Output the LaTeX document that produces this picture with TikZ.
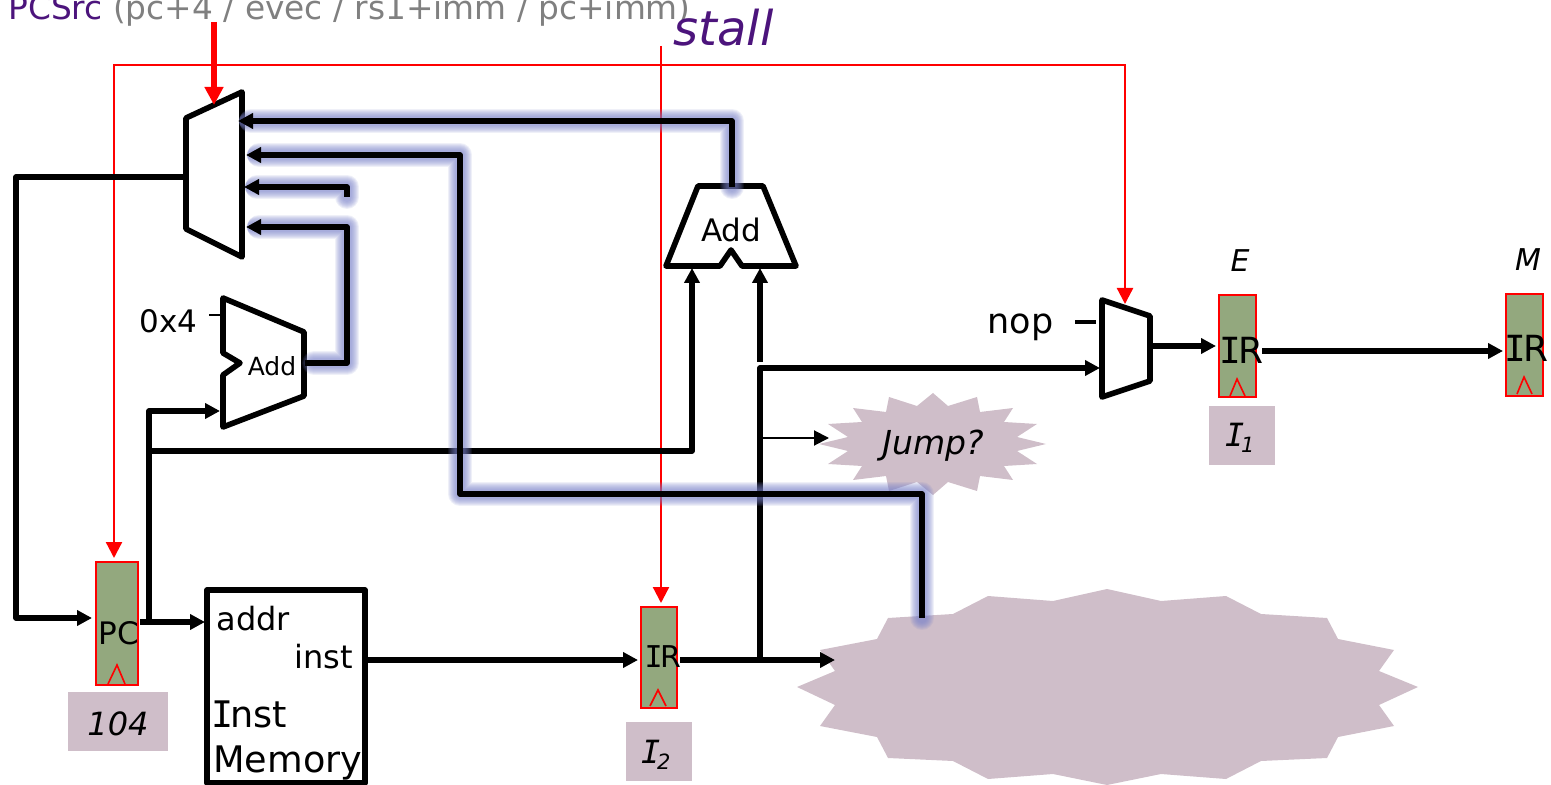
\documentclass[tikz,border=0pt]{standalone}
\usepackage{fontspec}
\setmainfont{DejaVu Sans}
\newfontfamily\vmono{DejaVu Sans Mono}
\usetikzlibrary{arrows.meta}
\definecolor{regfill}{RGB}{147,168,126}
\definecolor{mauve}{RGB}{207,190,201}
\definecolor{glowc}{RGB}{120,128,200}
\definecolor{purp}{RGB}{76,20,124}
\definecolor{grayt}{RGB}{128,128,128}
\newcommand{\fs}[1]{\fontsize{#1}{#1}\selectfont}
\newcommand{\vI}{{\vmono\kern-0.08em I\kern-0.08em}}
\newcommand{\glowpath}[1]{\foreach \w in {12,11,10,9,8,7,6,5}{\draw[glowc,line width=\w pt,opacity=.12,line join=round,line cap=round,shorten >=\w pt/2+0.5pt] #1;}}
\tikzset{
  x=0.5pt,y=-0.5pt,
  wire/.style={line width=2.7pt,line join=round,-{Triangle[length=7.5pt,width=7.5pt]}},
  plainwire/.style={line width=2.7pt,line join=round},
  redwire/.style={red,line width=1.15pt,-{Triangle[length=8pt,width=8pt]}},
  hw/.style={draw=black,line width=2.8pt,line join=round,fill=white},
  reg/.style={draw=red,fill=regfill,line width=1.1pt,inner sep=0pt,minimum width=#1,anchor=north west},
  clk/.style={draw=red,line width=.8pt},
  tag/.style={fill=mauve,inner sep=0pt,anchor=north west},
  txt/.style={inner sep=0pt,anchor=base west},
  ctr/.style={inner sep=0pt,anchor=center},
  burst/.style={fill=mauve,draw=none}
}
\begin{document}
\begin{tikzpicture}
\useasboundingbox (0,0) rectangle (1551,785);
% ---- named points
\coordinate (srcTop) at (214,22); \coordinate (srcTip) at (214,105);
\coordinate (stallTop) at (661,46); \coordinate (stallTip) at (661,603);
\coordinate (pcTip) at (114,558); \coordinate (redTL) at (114,65);
\coordinate (redTR) at (1125,65); \coordinate (mux2Tip) at (1125,304);
\coordinate (m1out) at (186,177); \coordinate (fbTL) at (16,177);
\coordinate (fbBL) at (16,618); \coordinate (pcIn) at (92,618);
\coordinate (m1a) at (238,121); \coordinate (addTop) at (732,187); \coordinate (addUp) at (732,121);
\coordinate (m1b) at (246,155); \coordinate (bC1) at (460,155); \coordinate (bC2) at (460,494);
\coordinate (bC3) at (922,494); \coordinate (burstIn) at (922,618);
\coordinate (m1c) at (244,187); \coordinate (cC) at (347,187); \coordinate (cEnd) at (347,197);
\coordinate (m1d) at (246,227); \coordinate (dC1) at (347,227); \coordinate (dC2) at (347,363);
\coordinate (addSOut) at (305,363); \coordinate (addSOutG) at (314,363);
\coordinate (pcOut) at (140,622); \coordinate (imemIn) at (205,622); \coordinate (pcJ) at (149,622);
\coordinate (addSIn) at (220,411); \coordinate (addSC) at (149,411); \coordinate (brJ) at (149,451);
\coordinate (brC) at (692,451); \coordinate (addL) at (692,268);
\coordinate (imemOut) at (366,660); \coordinate (ir2In) at (638,660);
\coordinate (ir2Out) at (680,660); \coordinate (decIn) at (835,660);
\coordinate (tapJ) at (760,660); \coordinate (tapC) at (760,368); \coordinate (mux2In) at (1100,368);
\coordinate (addRb) at (760,362); \coordinate (addR) at (760,268);
\coordinate (jmpS) at (763,438); \coordinate (jmpT) at (829,438);
\coordinate (nopA) at (1075,322); \coordinate (nopB) at (1096,322);
\coordinate (m2out) at (1151,346); \coordinate (irEIn) at (1216,346);
\coordinate (irEOut) at (1262,351); \coordinate (irMIn) at (1503,351);
\coordinate (tickA) at (209,315); \coordinate (tickB) at (222,315);
% ---- clouds
\fill[burst] (797,687)--(835,671)--(820,650)--(877,639)--(888,618)--(953,614)--(988,596)--(1053,601)--(1107,589)--(1161,601)--(1226,596)--(1261,614)--(1327,618)--(1338,639)--(1394,650)--(1379,671)--(1418,687)--(1379,705)--(1394,726)--(1338,737)--(1327,758)--(1261,761)--(1226,779)--(1161,774)--(1107,785)--(1053,774)--(988,779)--(953,761)--(888,758)--(877,737)--(820,726)--(835,705)--cycle;
\fill[burst] (819,444)--(848,437)--(828,424)--(862,422)--(853,408)--(886,412)--(889,397)--(917,406)--(933,393)--(948,406)--(977,397)--(980,412)--(1013,408)--(1004,422)--(1037,424)--(1017,437)--(1046,444)--(1017,451)--(1037,464)--(1004,466)--(1013,480)--(980,476)--(977,491)--(948,482)--(933,495)--(917,482)--(889,491)--(886,476)--(853,480)--(862,466)--(828,464)--(848,451)--cycle;
\node[ctr] (jump) at (933,446) {\fs{16.5}\itshape Jump?};
% ---- red control
\draw[redwire,{Triangle[length=8pt,width=8pt]}-{Triangle[length=8pt,width=8pt]}] (pcTip)--(redTL)--(redTR)--(mux2Tip);
\draw[redwire] (stallTop)--(stallTip);
% ---- units
\draw[hw] (186,118)--(242,92)--(242,257)--(186,229)--cycle;
\draw[hw] (223,298)--(304,332)--(304,396)--(223,427)--(223,375)--(240,363)--(223,353)--cycle;
\draw[hw] (698,186)--(763,186)--(796,266)--(742,266)--(731,250)--(720,266)--(666,266)--cycle;
\draw[hw] (1102,300)--(1150,316)--(1150,381)--(1102,397)--cycle;
\draw[hw] (207,590) rectangle (365,783);
% ---- registers
\node[reg=21pt,minimum height=61.5pt] (pc) at (95,561) {};
\node[reg=18pt,minimum height=50.5pt] (ir2) at (640,606) {};
\node[reg=18.5pt,minimum height=51pt] (ire) at (1218,294) {};
\node[reg=18.5pt,minimum height=51pt] (irm) at (1505,293) {};
\draw[clk] (108,684)--(117,665)--(125,684);
\draw[clk] (650,706)--(658,690)--(666,706);
\draw[clk] (1230,396)--(1237,379)--(1245,396);
\draw[clk] (1517,394)--(1524,377)--(1532,394);
% ---- tags
\node[tag,minimum width=50pt,minimum height=29.5pt] (t104) at (68,692) {};
\node[tag,minimum width=33pt,minimum height=29.5pt] (ti2) at (626,722) {};
\node[tag,minimum width=33pt,minimum height=29.5pt] (ti1) at (1209,406) {};
% ---- black wires without glow
\draw[wire] (m1out)--(fbTL)--(fbBL)--(pcIn);
\draw[wire] (pcOut)--(imemIn);
\draw[wire] (pcJ)--(addSC)--(addSIn);
\draw[wire] (brJ)--(brC)--(addL);
\draw[wire] (imemOut)--(ir2In);
\draw[wire] (ir2Out)--(decIn);
\draw[wire] (tapJ)--(tapC)--(mux2In);
\draw[wire] (addRb)--(addR);
\draw[line width=1pt,-{Triangle[length=7.5pt,width=7.5pt]}] (jmpS)--(jmpT);
\draw[line width=2pt] (nopA)--(nopB);
\draw[line width=1pt] (tickA)--(tickB);
\draw[wire] (m2out)--(irEIn);
\draw[wire] (irEOut)--(irMIn);
\draw[line width=2.8pt,red,-{Triangle[length=9pt,width=9pt]}] (srcTop)--(srcTip);
% ---- glow and glowing wires
\glowpath{(addTop)--(addUp)--(m1a)}
\glowpath{(burstIn)--(bC3)--(bC2)--(bC1)--(m1b)}
\glowpath{(cEnd)--(cC)--(m1c)}
\glowpath{(addSOutG)--(dC2)--(dC1)--(m1d)}
\draw[wire] (addTop)--(addUp)--(m1a);
\draw[wire] (burstIn)--(bC3)--(bC2)--(bC1)--(m1b);
\draw[wire] (cEnd)--(cC)--(m1c);
\draw[wire] (addSOut)--(dC2)--(dC1)--(m1d);
% ---- labels
\node[txt] (pcsrc) at (8,20) {\fs{16.4}\textcolor{purp}{PCSrc} \textcolor{grayt}{(pc+4 / evec / rs1+imm / pc+imm)}};
\node[txt] (stall) at (673,46) {\fs{24}\itshape\textcolor{purp}{stall}};
\node[txt] (ox4) at (139,333) {\fs{15.5}0x4};
\node[ctr] (adds) at (272,366) {\fs{12.5}Add};
\node[ctr] (addb) at (731,230) {\fs{15.5}Add};
\node[txt] (addr) at (216,630) {\fs{16}addr};
\node[txt] (inst) at (294,668) {\fs{16}inst};
\node[txt] (inst2) at (214,727) {\fs{18.3}\vI nst};
\node[txt] (mem) at (213,772) {\fs{18.3}Memory};
\node[ctr] (pclab) at (119,633) {\fs{15.5}PC};
\node[ctr] (ir2lab) at (664,657) {\fs{15}\vI R};
\node[ctr] (irelab) at (1243,350) {\fs{18}\vI R};
\node[ctr] (irmlab) at (1528,348) {\fs{18}\vI R};
\node[txt] (nop) at (987,334) {\fs{17.5}nop};
\node[ctr] (e) at (1240,261) {\fs{15}\itshape E};
\node[ctr] (m) at (1528,260) {\fs{15}\itshape M};
\node[ctr] (v104) at (118,724) {\fs{16}\itshape 104};
\node[ctr] (i2) at (657,755) {\fs{16}{\vmono\itshape\kern-0.08em I\kern-0.1em}\raisebox{-3pt}{\fs{10.5}\itshape 2}};
\node[ctr] (i1) at (1241,438) {\fs{16}{\vmono\itshape\kern-0.08em I\kern-0.1em}\raisebox{-3pt}{\fs{10.5}\itshape 1}};
\end{tikzpicture}
\end{document}
